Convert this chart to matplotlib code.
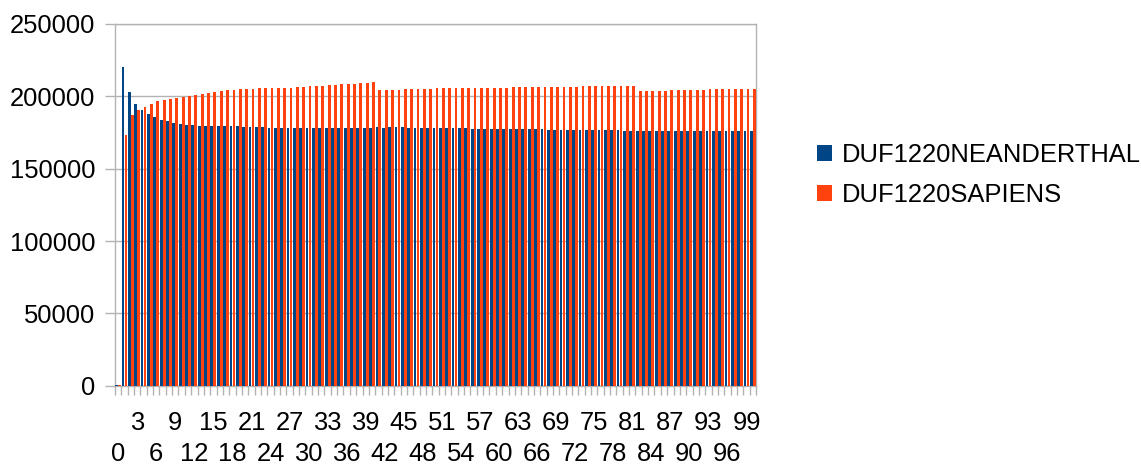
import matplotlib
matplotlib.use('Agg')
import matplotlib.pyplot as plt
from matplotlib.patches import Patch
import numpy as np

plt.rcParams['font.family'] = ['Liberation Sans', 'DejaVu Sans']

# categories 0..100
categories = list(range(101))

neanderthal = [
    500, 220600, 203000, 194700, 190500, 187800, 185700, 183600, 182900, 181500,
    180900, 180200, 180200, 179500, 179500, 179500, 179500, 179500, 179500, 179500,
    178800, 178800, 178800, 178800, 178100, 178100, 178100, 178100, 178100, 178100,
    178100, 178100, 178100, 178100, 178100, 178100, 178100, 178100, 178100, 178100,
    178100, 178800, 178100, 178800, 178800, 178800, 178100, 178100, 178100, 178100,
    178100, 178100, 178100, 178100, 178100, 178100, 177400, 177400, 177400, 177400,
    177400, 177400, 177400, 177400, 177400, 177400, 177400, 177400, 176700, 176700,
    176700, 176700, 176700, 176700, 176700, 176700, 176700, 176700, 176700, 176700,
    176000, 176000, 176000, 176000, 176000, 176000, 176000, 176000, 176000, 176000,
    176000, 176000, 176000, 176000, 176000, 176000, 176000, 176000, 176000, 176000,
    176000,
]

sapiens = [
    500, 173400, 187000, 190500, 192600, 194700, 196800, 197500, 198100, 198800,
    199500, 200200, 200900, 201600, 202300, 203000, 203700, 204400, 204400, 205000,
    205000, 205000, 205700, 205700, 205700, 205700, 205700, 205700, 206400, 206400,
    207100, 207100, 207100, 207800, 207800, 208500, 208500, 208500, 209200, 209200,
    209900, 204400, 204400, 204400, 204400, 205000, 205000, 205000, 205000, 205000,
    205700, 205700, 205700, 205700, 205700, 205700, 205700, 205700, 205700, 205700,
    205700, 205700, 206400, 206400, 206400, 206400, 206400, 206400, 206400, 206400,
    206400, 206400, 206400, 207100, 207100, 207100, 207100, 207100, 207100, 207100,
    207100, 207100, 203700, 203700, 203700, 203700, 203700, 204400, 204400, 204400,
    204400, 204400, 204400, 205000, 205000, 205000, 205000, 205000, 205000, 205000,
    205000,
]

series_names = ['DUF1220NEANDERTHAL', 'DUF1220SAPIENS']
colors = ['#004586', '#ff420e']
yticks = [0, 50000, 100000, 150000, 200000, 250000]
xlabels = list(range(0, 100, 3))

grid_color = '#b3b3b3'
fs = 18.4

fig = plt.figure(figsize=(11.41, 4.65), dpi=100)
ax = fig.add_axes([0.1008, 0.1705, 0.5618, 0.7779])

x = np.array(categories)
w = 0.44
ax.bar(x - 0.235, neanderthal, width=w, color=colors[0], zorder=3)
ax.bar(x + 0.235, sapiens, width=w, color=colors[1], zorder=3)

ax.set_xlim(-0.5, 100.5)
ax.set_ylim(0, 250000)

# horizontal grid
ax.set_yticks(yticks)
ax.set_yticklabels([str(v) for v in yticks], fontsize=fs)
ax.yaxis.grid(True, color=grid_color, linewidth=1.0, zorder=0)
ax.tick_params(axis='y', length=7.2, width=1.0, color=grid_color, pad=7)

# x ticks: marks at category boundaries, labels staggered in two rows
ax.set_xticks(np.arange(-0.5, 101, 1.0), minor=True)
ax.set_xticks(xlabels)
ax.set_xticklabels([str(v) for v in xlabels], fontsize=fs)
ax.tick_params(axis='x', which='major', length=0)
ax.tick_params(axis='x', which='minor', length=6.5, width=1.0, color=grid_color)
for i, tick in enumerate(ax.xaxis.get_major_ticks()):
    tick.set_pad(40.5 if i % 2 == 0 else 18.5)

for sp in ax.spines.values():
    sp.set_color(grid_color)
    sp.set_linewidth(1.0)

handles = [Patch(facecolor=c, edgecolor='none') for c in colors]
fig.legend(handles, series_names, loc='center left', bbox_to_anchor=(0.716, 0.623),
           frameon=False, fontsize=fs, handlelength=0.6, handleheight=0.6,
           handletextpad=0.38, labelspacing=0.62, borderpad=0, borderaxespad=0)

fig.savefig('out.png', dpi=100)
